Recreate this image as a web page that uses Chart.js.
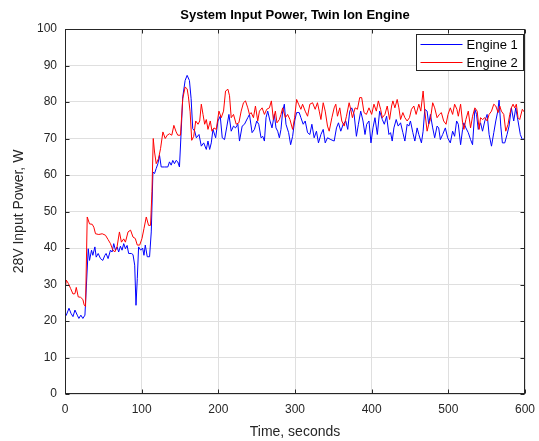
<!DOCTYPE html>
<html>
<head>
<meta charset="utf-8">
<script src="https://cdn.jsdelivr.net/npm/chart.js@4.4.0/dist/chart.umd.min.js"></script>
<style>
  html, body { margin: 0; padding: 0; background: #fff; }
  #powerChart { display: block; }
</style>
</head>
<body>
<canvas id="powerChart" width="539" height="441"></canvas>
<script>
// values
var engine1Time = [
    0, 1.7, 5.2, 7.8, 10.4, 13, 16, 18.1, 20.7, 23.3,
    26, 30.3, 32, 34.6, 36.3, 39, 40.7, 43.3, 46.3, 49.3,
    52, 53.6, 56.2, 59.3, 61.4, 63.6, 65.8, 68, 70, 72.3,
    74.4, 76.6, 78.8, 81, 83, 86.5, 88.7, 90.9, 92.6, 94.3,
    96, 98.7, 101.2, 103, 104.7, 107.3, 110.3, 112.5, 114.7, 116.8,
    119, 121.2, 123.3, 125.5, 129.8, 134.1, 136.3, 138.5, 140.6, 142.8,
    145, 147.1, 149.3, 151.5, 153.6, 156.7, 159.3, 162.3, 164.5, 166.6,
    169.2, 171.3, 174.8, 177.8, 180.9, 184.3, 186.5, 188.7, 190.8, 193,
    196.5, 199.5, 202.5, 205.1, 208.1, 211.2, 213.8, 216.8, 219.8, 222.4,
    225.5, 227.6, 231.1, 234.1, 238.4, 240.6, 244, 247.1, 250.1, 252.7,
    255.7, 257.9, 260.1, 262.2, 264.4, 267.4, 270, 273, 275.2, 277.4,
    279.6, 281.7, 283.9, 286.1, 288.2, 291.7, 294.3, 296.9, 299.5, 302.1,
    305.5, 307.7, 310.7, 313.3, 316.4, 319.4, 322, 325, 328, 330.6,
    333.8, 336.8, 339.4, 342.4, 346.8, 351.1, 354.1, 356.7, 359.7, 362.8,
    366.2, 368.8, 371.4, 374, 377.1, 380.1, 382.7, 385.7, 388.7, 391.3,
    393.5, 396.5, 399.1, 401.7, 404.3, 407.4, 410.4, 413.9, 416.5, 419.5,
    422.5, 424.7, 426.8, 429, 432, 434.6, 437.7, 440.7, 443.3, 446.3,
    448.5, 450.6, 453.7, 456.3, 459.3, 461.5, 464.9, 467.1, 469.3, 472.3,
    474.4, 476.6, 479.6, 482.2, 485.3, 487.4, 489.6, 492.6, 496.1, 499.1,
    502.6, 505.6, 508.2, 510.8, 513, 516, 518.6, 520.3, 522.9, 526,
    529, 531.6, 534.6, 536.8, 539, 542, 544.6, 547.6, 550.6, 553.2,
    556.3, 559.3, 561.9, 564.5, 566.2, 568.4, 570.5, 573.6, 576.6, 579.2,
    582.2, 585.3, 587.9, 590.9, 593.9, 596.5, 600
];
var engine1Power = [
    21.2, 21.6, 23.5, 22.1, 21.2, 23, 21.6, 20.7, 21.6, 20.7,
    21.6, 39.8, 36.6, 39.4, 38, 40.3, 37.5, 38.5, 37.1, 36.6,
    38, 38.5, 37.1, 39.4, 38.9, 41.2, 39.4, 40.3, 38.9, 40.5,
    39.4, 41.2, 39.8, 40.7, 38.5, 38.5, 38.2, 35.3, 24.3, 31.6,
    40.3, 39.4, 40, 38, 40.8, 37.6, 37.6, 44.4, 60.8, 60.4,
    61.8, 63.1, 65.4, 62.2, 62.2, 62.2, 63.6, 62.7, 64, 63.1,
    64, 63.6, 62.2, 71.8, 81.4, 85.9, 87.3, 85.9, 80.9, 72.7,
    72, 70.2, 71.1, 67.9, 68.8, 67, 69.3, 67, 68.8, 72.5,
    70.2, 74.8, 76.1, 70.2, 69.7, 73.4, 76.6, 72, 73.4, 72.9,
    73.9, 69.3, 73.4, 73.9, 75.7, 76.6, 71.6, 72.5, 74.8, 73.9,
    70.2, 70.6, 69.3, 75.7, 77.5, 74.8, 72.9, 76.6, 72.9, 72,
    70.2, 72.5, 77.5, 79.4, 73.9, 71.6, 68.3, 70.6, 74.8, 77.1,
    77.1, 75.7, 73.9, 74.8, 71.6, 71.1, 73.9, 70.2, 72, 68.8,
    71.1, 72.5, 68.8, 70.2, 69.7, 69.3, 72.9, 74.3, 72, 73.9,
    74.8, 72.5, 77.5, 78.4, 76.6, 70.6, 73.9, 77.5, 74.8, 71.1,
    73.9, 74.8, 68.8, 72.9, 75.7, 71.1, 77.5, 75.2, 73.9, 76.1,
    71.1, 71.6, 69.3, 72.9, 75.2, 73.4, 74.3, 71.6, 69.3, 73.9,
    73.4, 74.8, 71.6, 69.3, 72.9, 71.1, 68.8, 72, 78, 77.5,
    73.9, 76.6, 72.9, 70.2, 73.4, 72.9, 69.7, 71.1, 72.9, 70.2,
    68.8, 72, 70.6, 74.8, 73.9, 68.3, 72.5, 74.3, 72.9, 71.6,
    69.7, 68.3, 78, 76.6, 72.5, 74.3, 72, 74.8, 76.6, 71.1,
    67.9, 71.6, 74.8, 77.5, 80.5, 73.4, 68.8, 68.8, 71.1, 73.4,
    78.4, 74.8, 78.4, 74.8, 71.1, 69.7, 70
];
var engine2Time = [
    0, 1.7, 4.3, 7.3, 10.4, 13, 14.7, 17.3, 20.3, 23.3,
    25, 26.8, 29, 32, 35.5, 37.6, 39.8, 44.1, 48.5, 52.8,
    56.2, 59.3, 62.3, 64.9, 67.9, 71, 73.6, 76.6, 78.8, 82.2,
    85.5, 88.7, 91.7, 94.3, 97.4, 100.4, 103, 106, 109, 111.6,
    113.4, 115.1, 116.8, 119, 122, 124.6, 127.7, 130.7, 133.3, 136.3,
    139.3, 142, 145, 147.1, 150.6, 153.6, 156.7, 159.3, 161, 163.2,
    165.3, 167.9, 170.5, 173.5, 175.7, 177.8, 180, 182.2, 184.3, 186.5,
    189.5, 191.7, 194.3, 197.3, 200.8, 203.8, 206.8, 209.4, 212.5, 214.6,
    216.8, 219.8, 223.3, 226.8, 229.8, 232.8, 235.4, 238.4, 240.6, 242.8,
    245.8, 248.4, 251.4, 253.6, 257.1, 260.1, 263.1, 266.6, 269.2, 271.8,
    274.4, 276.5, 279.6, 281.7, 283.9, 287.4, 290.4, 293.4, 296.9, 299.5,
    302.1, 304.7, 307.7, 309.9, 313.3, 316.4, 319.4, 322.9, 326.3, 329.3,
    331.6, 333.8, 336.8, 339.4, 342.4, 344.6, 348.1, 351.1, 353.2, 355.4,
    358.4, 361, 364.1, 367.1, 370.6, 372.7, 374.9, 378.4, 381.4, 384.4,
    387, 390, 393.1, 396.5, 400, 403, 406.1, 408.7, 411.7, 413.9,
    417.3, 420.3, 423.4, 426, 427.7, 430.3, 433.3, 435.5, 437.7, 440.7,
    443.3, 446.3, 449.3, 451.9, 455, 458, 461.5, 464.1, 467.1, 469.3,
    472.3, 474.4, 476.6, 479.6, 482.2, 485.3, 488.3, 490.9, 493.9, 497,
    499.6, 502.6, 505.6, 508.2, 511.2, 513, 516, 518.6, 520.3, 522.9,
    526, 529, 531.6, 534.6, 537.6, 540.2, 542, 544.6, 547.6, 550.6,
    553.2, 556.3, 559.3, 561.9, 564.9, 567.1, 569.2, 572.3, 574.9, 577.9,
    580.1, 582.2, 584.4, 586.6, 588.7, 590.9, 593.1, 596.5, 600
];
var engine2Power = [
    28.5, 31.2, 30.3, 28.9, 27.4, 27.5, 29.2, 26.6, 26.5, 25.9,
    24.4, 24, 48.5, 46.6, 46.5, 45.7, 43.9, 43.7, 43.9, 43.5,
    42.3, 41.2, 39.5, 38.9, 40.3, 44.4, 41.6, 42.5, 41.6, 44.4,
    44.9, 43, 42.6, 40.8, 40.8, 42.6, 45.3, 48.5, 46.2, 46.2,
    55.4, 70, 66.3, 63.1, 64.5, 67.2, 71.8, 70, 70.9, 71.3,
    70.9, 73.6, 71.8, 70.9, 70.9, 80.9, 84.1, 83.6, 81.4, 77.3,
    69.5, 70.6, 74.8, 73.9, 74.8, 79.4, 76.6, 73.9, 75.2, 72.5,
    74.8, 72, 72.9, 72.5, 77.5, 75.7, 77.5, 83, 83.5, 81.7,
    75.7, 76.6, 73.9, 74.3, 77.5, 79.8, 80.3, 78.4, 76.6, 77.1,
    75.7, 78.9, 74.8, 77.5, 78.4, 76.6, 78, 78.4, 80.3, 75.2,
    77.5, 74.3, 75.2, 76.6, 78.4, 75.7, 76.6, 75.2, 72.5, 75.7,
    80.7, 79.4, 78, 79.4, 77.5, 76.1, 79.4, 79.8, 78, 79.8,
    77.5, 75.2, 79.8, 77.5, 73.4, 72, 75.7, 78.4, 79.4, 76.1,
    78.4, 74.8, 73.4, 76.1, 79.8, 78, 75.7, 78.4, 78, 81.2,
    81.2, 77.1, 76.6, 78.4, 76.6, 79.4, 77.5, 80.3, 78, 75.7,
    76.6, 78.9, 75.2, 78.9, 80.3, 78.4, 80.7, 78.4, 75.2, 77.1,
    75.7, 74.8, 75.7, 78, 78.9, 76.6, 79.4, 77.5, 83, 77.5,
    72, 73.9, 75.2, 79.8, 78.4, 75.7, 76.6, 77.1, 74.8, 73.9,
    76.6, 78.4, 76.6, 79.4, 78, 76.1, 79.4, 74.3, 72.5, 75.2,
    77.5, 72.9, 76.1, 78.4, 77.5, 72.5, 75.7, 75.2, 75.7, 74.8,
    76.6, 77.5, 79.4, 78.9, 77.1, 78.9, 77.5, 76.6, 72, 73.9,
    76.6, 78.4, 79.4, 78.4, 79.4, 75.7, 75.2, 78, 77
];
var seriesNames = ['Engine 1', 'Engine 2'];
var seriesColors = ['#0000ff', '#ff0000'];

var chartTitle = 'System Input Power, Twin Ion Engine';
var xTitle = 'Time, seconds';
var yTitle = '28V Input Power, W';
var FONT = "'Liberation Sans', Arial, Helvetica, sans-serif";
var AXIS_COLOR = '#262626';

function toPoints(times, values) {
    return times.map(function (t, i) { return { x: t, y: values[i] }; });
}

// box, inward ticks, title and legend in the matlab look
var matlabFrame = {
    id: 'matlabFrame',
    afterDraw: function (chart) {
        var ctx = chart.ctx;
        var a = chart.chartArea;
        var xs = chart.scales.x, ys = chart.scales.y;
        var L = Math.round(a.left) + 0.5, R = Math.round(a.right) - 0.5;
        var T = Math.round(a.top) + 0.5, B = Math.round(a.bottom) - 0.5;
        ctx.save();
        ctx.strokeStyle = AXIS_COLOR;
        ctx.lineWidth = 1;
        ctx.strokeRect(L, T, R - L, B - T);
        ctx.beginPath();
        xs.ticks.forEach(function (tk) {
            var px = Math.round(xs.getPixelForValue(tk.value)) + 0.5;
            ctx.moveTo(px, B); ctx.lineTo(px, B - 4);
            ctx.moveTo(px, T); ctx.lineTo(px, T + 4);
        });
        ys.ticks.forEach(function (tk) {
            var py = Math.round(ys.getPixelForValue(tk.value)) + 0.5;
            ctx.moveTo(L, py); ctx.lineTo(L + 4, py);
            ctx.moveTo(R, py); ctx.lineTo(R - 4, py);
        });
        ctx.stroke();

        // title
        ctx.fillStyle = '#000';
        ctx.font = 'bold 13px ' + FONT;
        ctx.textAlign = 'center';
        ctx.textBaseline = 'middle';
        ctx.fillText(chartTitle, (a.left + a.right) / 2, 15);

        // legend
        var bw = 107, bh = 36;
        var bx = Math.round(a.right) - 2 - bw + 0.5, by = Math.round(a.top) + 5 + 0.5;
        ctx.fillStyle = '#fff';
        ctx.fillRect(bx, by, bw, bh);
        ctx.strokeStyle = AXIS_COLOR;
        ctx.strokeRect(bx, by, bw, bh);
        ctx.font = '13px ' + FONT;
        ctx.textAlign = 'left';
        chart.data.datasets.forEach(function (ds, i) {
            var ly = Math.round(by + 9.5 + i * 17.5) + 0.5;
            ctx.strokeStyle = ds.borderColor;
            ctx.beginPath();
            ctx.moveTo(bx + 4, ly); ctx.lineTo(bx + 46, ly);
            ctx.stroke();
            ctx.fillStyle = '#000';
            ctx.fillText(ds.label, bx + 50, ly + 0.5);
        });
        ctx.restore();
    }
};

var ctx = document.getElementById('powerChart').getContext('2d');
var chart = new Chart(ctx, {
    type: 'line',
    data: {
        datasets: [{
            label: seriesNames[0],
            data: toPoints(engine1Time, engine1Power),
            borderColor: seriesColors[0],
            borderWidth: 1,
            pointRadius: 0,
            tension: 0,
            order: 2
        }, {
            label: seriesNames[1],
            data: toPoints(engine2Time, engine2Power),
            borderColor: seriesColors[1],
            borderWidth: 1,
            pointRadius: 0,
            tension: 0,
            order: 1
        }]
    },
    options: {
        responsive: false,
        animation: false,
        devicePixelRatio: 1,
        layout: { padding: { top: 29, right: 14, left: 0, bottom: 0 } },
        plugins: {
            legend: { display: false },
            tooltip: { enabled: false }
        },
        scales: {
            x: {
                type: 'linear',
                min: 0,
                max: 600,
                afterFit: function (scale) {
                    scale.height = 47;
                    scale.paddingLeft = 0;
                    scale.paddingRight = 0;
                },
                ticks: { stepSize: 100, maxRotation: 0, padding: 8, color: AXIS_COLOR, font: { family: FONT, size: 12 } },
                grid: { color: '#dfdfdf', drawTicks: false },
                border: { display: false },
                title: { display: true, text: xTitle, color: AXIS_COLOR, padding: { top: 2, bottom: 0 }, font: { family: FONT, size: 14 } }
            },
            y: {
                min: 0,
                max: 100,
                afterFit: function (scale) { scale.width = 65; },
                ticks: { stepSize: 10, padding: 8, color: AXIS_COLOR, font: { family: FONT, size: 12 } },
                grid: { color: '#dfdfdf', drawTicks: false },
                border: { display: false },
                title: { display: true, text: yTitle, color: AXIS_COLOR, padding: { top: 11, bottom: 0 }, font: { family: FONT, size: 14 } }
            }
        }
    },
    plugins: [matlabFrame]
});
</script>
</body>
</html>
